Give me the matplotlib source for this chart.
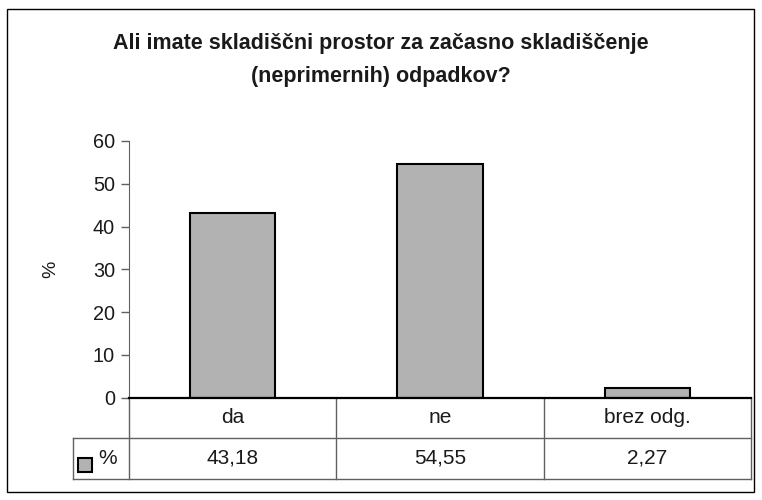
import matplotlib.pyplot as plt
from matplotlib.patches import Rectangle

plt.rcParams['font.family'] = ['Liberation Sans', 'DejaVu Sans']

# data
categories = ['da', 'ne', 'brez odg.']
values = [43.18, 54.55, 2.27]
value_labels = ['43,18', '54,55', '2,27']
series_name = '%'
title = 'Ali imate skladiščni prostor za začasno skladiščenje\n(neprimernih) odpadkov?'

bar_color = '#b2b2b2'
grid_color = '#606060'

fig = plt.figure(figsize=(7.62, 5.0), dpi=100)
ax = fig.add_axes([129 / 762, 102.3 / 500, 622 / 762, 256.7 / 500])

x = list(range(len(categories)))
ax.bar(x, values, width=0.41, color=bar_color, edgecolor='black', linewidth=1.5, zorder=3)

ax.set_xlim(-0.5, len(categories) - 0.5)
ax.set_ylim(0, 60)
ax.set_yticks(range(0, 61, 10))
ax.tick_params(axis='y', labelsize=14.3, length=6, width=1, color=grid_color, pad=4,
               labelcolor='#1a1a1a')
ax.set_xticks([])
ax.spines['top'].set_visible(False)
ax.spines['right'].set_visible(False)
ax.spines['left'].set_color(grid_color)
ax.spines['bottom'].set_linewidth(1.6)
ax.spines['bottom'].set_zorder(4)
ax.set_ylabel('%', fontsize=14, labelpad=24, color='#1a1a1a')

fig.suptitle(title, x=0.5, y=0.935, fontsize=15.5, fontweight='bold', linespacing=1.8,
             color='#1a1a1a')

# data table under the plot
tr = ax.get_xaxis_transform()
row_h = 40.5 / 256.7
left_x = -0.5 - 56 / 207.3
right_x = len(categories) - 0.5
kw = dict(transform=tr, clip_on=False, color=grid_color, lw=1.0)

for b in [i - 0.5 for i in range(len(categories) + 1)]:
    ax.plot([b, b], [0, -2 * row_h], **kw)
ax.plot([left_x, left_x], [-row_h, -2 * row_h], **kw)
ax.plot([left_x, right_x], [-row_h, -row_h], **kw)
ax.plot([left_x, right_x], [-2 * row_h, -2 * row_h], **kw)

for i, (cat, lab) in enumerate(zip(categories, value_labels)):
    ax.text(i, -0.5 * row_h, cat, transform=tr, ha='center', va='center',
            fontsize=15, color='#1a1a1a')
    ax.text(i, -1.5 * row_h, lab, transform=tr, ha='center', va='center',
            fontsize=15, color='#1a1a1a')

ax.add_patch(Rectangle((-0.5 - 51 / 207.3, -74.3 / 256.7), 14 / 207.3, 14 / 256.7,
                       transform=tr, clip_on=False, facecolor=bar_color,
                       edgecolor='black', lw=1.5))
ax.text(-0.5 - 21 / 207.3, -1.5 * row_h, series_name, transform=tr,
        ha='center', va='center', fontsize=15, color='#1a1a1a')

# outer chart frame
fig.patches.append(Rectangle((7 / 762, 8 / 500), 747 / 762, 483 / 500,
                             transform=fig.transFigure, fill=False,
                             edgecolor='black', lw=1.0))

fig.savefig('out.png', dpi=100)
